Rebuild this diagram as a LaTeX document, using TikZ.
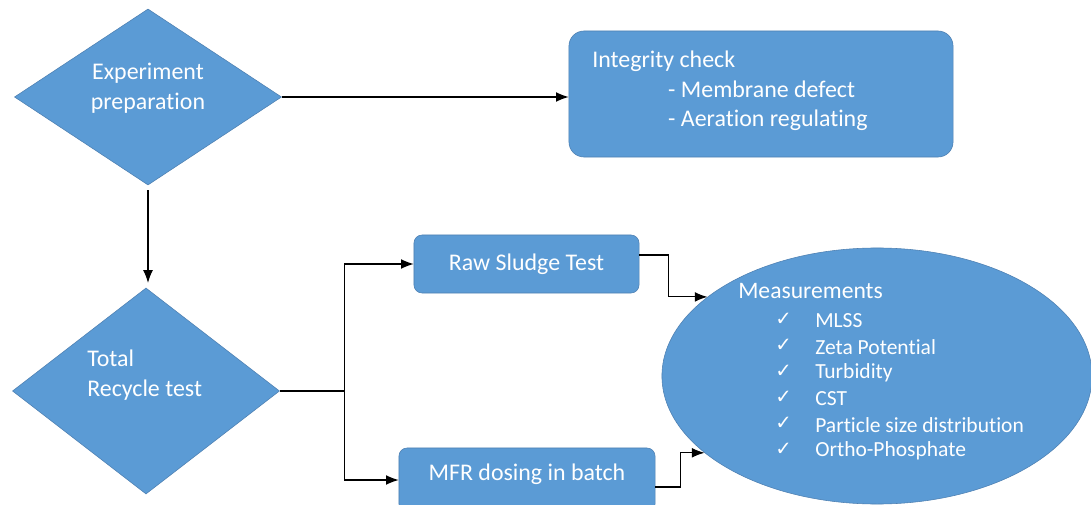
\documentclass[tikz,border=0pt]{standalone}
\usepackage{fontspec}
\setmainfont[Ligatures=NoCommon]{Carlito}
\newfontfamily\checkfont{DejaVu Sans}
\usetikzlibrary{shapes.geometric,calc,arrows.meta}
\definecolor{flowblue}{RGB}{91,155,213}
\definecolor{flowedge}{RGB}{78,128,178}
\tikzset{
  decision/.style={diamond, fill=flowblue, draw=flowedge, inner sep=0pt,
    minimum width=6.675cm},
  processbox/.style={rectangle, fill=flowblue, draw=flowedge, text=white,
    font=\fontsize{17}{21}\selectfont},
  boxtext/.style={text=white, inner sep=0pt, font=\fontsize{17}{21}\selectfont},
  listtext/.style={text=white, inner sep=0pt, anchor=west, font=\fontsize{15.3}{18}\selectfont},
  flowline/.style={line width=0.8pt, ->}
}
\begin{document}
\begin{tikzpicture}[x=0.025cm, y=-0.025cm, >={Latex[length=9pt,width=7pt]}]
\useasboundingbox (0,0) rectangle (1091,505);

% shapes
\node[decision, minimum height=4.4cm] (exp) at (148, 97) {};
\node[boxtext, align=center] (exptext) at (148, 88) {Experiment\\preparation};

\node[decision, minimum height=5.15cm] (tr) at (146, 391) {};
\node[boxtext, align=left, anchor=west] (trtext) at (87, 375) {Total\\Recycle test};

\node[processbox, rounded corners=0.375cm, minimum width=9.6cm, minimum height=3.15cm] (integ) at (761, 94) {};
\node[boxtext, align=left, anchor=west] (integtext) at (592, 91)
  {Integrity check\\\hspace*{54pt}- Membrane defect\\\hspace*{54pt}- Aeration regulating};

\node[processbox, rounded corners=0.2cm, minimum width=5.625cm, minimum height=1.45cm] (raw) at (526.5, 264) {Raw Sludge Test};
\node[processbox, rounded corners=0.2cm, minimum width=6.4cm, minimum height=1.6cm, text depth=0.4cm] (mfr) at (527, 480) {MFR dosing in batch};

\node[ellipse, fill=flowblue, draw=flowedge, minimum width=10.75cm, minimum height=6.4cm] (meas) at (877, 376) {};
\node[boxtext, anchor=west, font=\fontsize{16.8}{21}\selectfont] (meastext) at (738, 291) {Measurements};
\foreach \item [count=\i] in {MLSS, Zeta Potential, Turbidity, CST, Particle size distribution, Ortho-Phosphate}{
  \node[listtext] (chk\i) at (775, 319+26*\i-26) {\checkfont\fontsize{14}{16}\selectfont ✓};
  \node[listtext] (item\i) at (815, 321+26*\i-26) {\item};
}

% connectors
\draw[flowline] (exp.east) -- (exp.east -| integ.west);
\draw[flowline, shorten <=0.12cm, shorten >=0.12cm] (exp.south) -- (exp.south |- tr.north);
\draw[line width=2pt] (tr.east) -- ++(65,0) coordinate (split);
\draw[flowline] (split) |- (raw.west);
\draw[flowline] (split) |- (mfr.west);
\draw[flowline] ($(raw.east)+(0,-9)$) -- ++(29,0) |- (meas.155);
\draw[flowline] ($(mfr.east)+(0,7)$) -- ++(25,0) |- (meas.204);
\end{tikzpicture}
\end{document}
